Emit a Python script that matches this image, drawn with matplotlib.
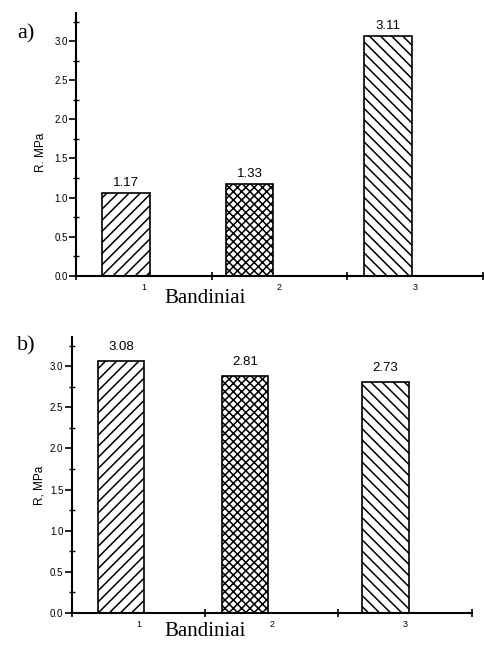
import matplotlib
matplotlib.use('Agg')
import matplotlib.pyplot as plt
from matplotlib.ticker import MultipleLocator, FixedLocator, FixedFormatter

# Duomenys (nuskaityti nuo paveikslo)
samples = ['1', '2', '3']
heights_a = [1.06, 1.17, 3.06]
labels_a = ['1.17', '1.33', '3.11']
heights_b = [3.06, 2.88, 2.81]
labels_b = ['3.08', '2.81', '2.73']
hatches = ['///', 'xxxx', '\\\\\\']

plt.rcParams['hatch.linewidth'] = 1.1
sans = 'Liberation Sans'
serif = 'Liberation Serif'

fig = plt.figure(figsize=(4.84, 6.49), dpi=100)


def panel(rect, heights, labels, shifts, ylab, letter, letter_xy, xlab_xy, ylab_xy, lab_off):
    ax = fig.add_axes(rect)
    pos = [i + 1 + s for i, s in enumerate(shifts)]
    bars = ax.bar(pos, heights, width=0.35, color='white', edgecolor='black',
                  linewidth=1.2, hatch=hatches, zorder=2)
    for b, t in zip(bars, labels):
        ax.annotate(t, (b.get_x() + b.get_width() / 2, b.get_height()),
                    xytext=(0, lab_off), textcoords='offset points',
                    ha='center', va='bottom', fontsize=9.5, family=sans)

    ax.set_xlim(0.5, 3.5)
    ax.set_ylim(0, 3.36)
    for s in ['top', 'right']:
        ax.spines[s].set_visible(False)
    for s in ['left', 'bottom']:
        ax.spines[s].set_linewidth(1.5)

    # y asis
    ax.yaxis.set_major_locator(MultipleLocator(0.5))
    ax.yaxis.set_minor_locator(MultipleLocator(0.25))
    ax.yaxis.set_major_formatter(plt.FormatStrFormatter('%.1f'))
    ax.tick_params(axis='y', which='major', direction='out', length=5, width=1.2,
                   labelsize=7, pad=1)
    ax.tick_params(axis='y', which='minor', direction='inout', length=4, width=1.0)

    # x asis
    ax.xaxis.set_major_locator(FixedLocator([0.5, 1.5, 2.5, 3.5]))
    ax.xaxis.set_major_formatter(FixedFormatter(['', '', '', '']))
    ax.xaxis.set_minor_locator(FixedLocator([1, 2, 3]))
    ax.xaxis.set_minor_formatter(FixedFormatter(samples))
    ax.tick_params(axis='x', which='major', direction='inout', length=6, width=1.2)
    ax.tick_params(axis='x', which='minor', length=0, labelsize=6.5, pad=5)
    for t in ax.get_yticklabels() + ax.get_xticklabels(minor=True):
        t.set_family(sans)

    ax.set_xlabel('Bandiniai', fontsize=15, family=serif)
    ax.xaxis.set_label_coords(*xlab_xy)
    ax.set_ylabel(ylab, fontsize=8.5, family=sans)
    ax.yaxis.set_label_coords(*ylab_xy)

    fig.text(letter_xy[0], letter_xy[1], letter, fontsize=16, family=serif,
             ha='left', va='center')
    return ax


panel([0.157, 0.575, 0.841, 0.405], heights_a, labels_a, [-0.13, -0.22, -0.2],
      'R. MPa', 'a)', (0.035, 0.948), (0.317, -0.05), (-0.07, 0.47), 3)
panel([0.148, 0.056, 0.827, 0.425], heights_b, labels_b, [-0.13, -0.2, -0.15],
      'R, MPa', 'b)', (0.035, 0.467), (0.334, -0.035), (-0.066, 0.46), 6)

fig.savefig('out.png', dpi=100)
